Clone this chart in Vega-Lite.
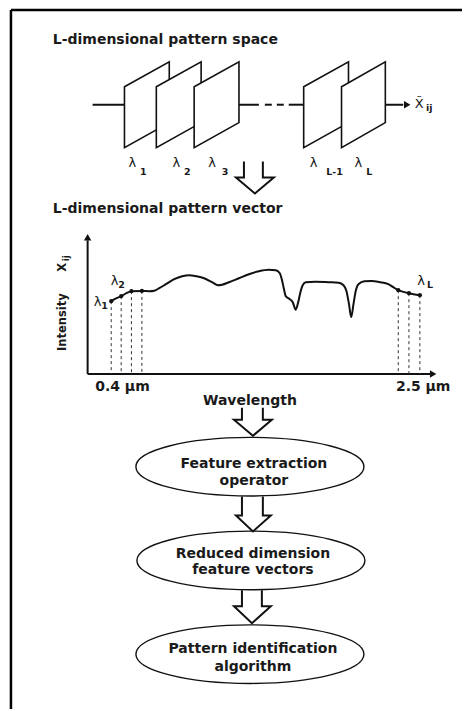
{
  "$schema": "https://vega.github.io/schema/vega-lite/v6.json",
  "width": 464,
  "height": 711,
  "padding": 0,
  "autosize": {"type": "fit", "contains": "padding"},
  "background": "white",
  "config": {"view": {"stroke": null}},
  "datasets": {
    "frame": [
      {"x": 11, "y": 10, "x2": 464, "y2": 10},
      {"x": 11, "y": 10, "x2": 11, "y2": 711}
    ],
    "strokes": [
      {"x": 93, "x2": 125, "y": 105, "y2": 105},
      {"x": 147, "x2": 157, "y": 105, "y2": 105},
      {"x": 180, "x2": 195, "y": 105, "y2": 105},
      {"x": 218, "x2": 260, "y": 105, "y2": 105},
      {"x": 266, "x2": 273, "y": 105, "y2": 105},
      {"x": 278, "x2": 285, "y": 105, "y2": 105},
      {"x": 290, "x2": 305, "y": 105, "y2": 105},
      {"x": 328, "x2": 343, "y": 105, "y2": 105},
      {"x": 365, "x2": 405, "y": 105, "y2": 105},
      {"x": 88, "x2": 88, "y": 241, "y2": 375},
      {"x": 88, "x2": 432, "y": 375, "y2": 375}
    ],
    "planes": [
      {"p": 1, "x": 125, "y": 87, "y2": 148}, {"p": 1, "x": 170, "y": 62, "y2": 123},
      {"p": 2, "x": 157, "y": 87, "y2": 148}, {"p": 2, "x": 202, "y": 62, "y2": 123},
      {"p": 3, "x": 195, "y": 87, "y2": 148}, {"p": 3, "x": 240, "y": 62, "y2": 123},
      {"p": 4, "x": 305, "y": 87, "y2": 148}, {"p": 4, "x": 350, "y": 62, "y2": 123},
      {"p": 5, "x": 343, "y": 87, "y2": 148}, {"p": 5, "x": 387, "y": 62, "y2": 123}
    ],
    "heads": [
      {"x": 409, "y": 105, "dir": "right"},
      {"x": 88, "y": 238, "dir": "up"},
      {"x": 435, "y": 375, "dir": "right"}
    ],
    "arrows": [
      {"a": 1, "k": 1, "x": 245, "y": 162}, {"a": 1, "k": 2, "x": 245, "y": 178},
      {"a": 1, "k": 3, "x": 237, "y": 178}, {"a": 1, "k": 4, "x": 256, "y": 194},
      {"a": 1, "k": 5, "x": 275, "y": 178}, {"a": 1, "k": 6, "x": 264, "y": 178},
      {"a": 1, "k": 7, "x": 264, "y": 162},
      {"a": 2, "k": 1, "x": 243, "y": 409}, {"a": 2, "k": 2, "x": 243, "y": 421},
      {"a": 2, "k": 3, "x": 235, "y": 421}, {"a": 2, "k": 4, "x": 254, "y": 437},
      {"a": 2, "k": 5, "x": 273, "y": 421}, {"a": 2, "k": 6, "x": 264, "y": 421},
      {"a": 2, "k": 7, "x": 264, "y": 409},
      {"a": 3, "k": 1, "x": 243, "y": 498}, {"a": 3, "k": 2, "x": 243, "y": 517},
      {"a": 3, "k": 3, "x": 237, "y": 517}, {"a": 3, "k": 4, "x": 254, "y": 533},
      {"a": 3, "k": 5, "x": 272, "y": 517}, {"a": 3, "k": 6, "x": 264, "y": 517},
      {"a": 3, "k": 7, "x": 264, "y": 498},
      {"a": 4, "k": 1, "x": 243, "y": 592}, {"a": 4, "k": 2, "x": 243, "y": 608},
      {"a": 4, "k": 3, "x": 235, "y": 608}, {"a": 4, "k": 4, "x": 253, "y": 625},
      {"a": 4, "k": 5, "x": 272, "y": 608}, {"a": 4, "k": 6, "x": 263, "y": 608},
      {"a": 4, "k": 7, "x": 263, "y": 592}
    ],
    "spectrum": [
      {"x": 111.7, "y": 302}, {"x": 116, "y": 299.5}, {"x": 121.7, "y": 297},
      {"x": 127, "y": 294}, {"x": 132, "y": 292}, {"x": 142.5, "y": 291.7},
      {"x": 150, "y": 292}, {"x": 155, "y": 291.5}, {"x": 160, "y": 289},
      {"x": 166.7, "y": 285}, {"x": 175, "y": 280}, {"x": 183, "y": 277},
      {"x": 190, "y": 276}, {"x": 197, "y": 277}, {"x": 205, "y": 279},
      {"x": 213, "y": 283}, {"x": 219, "y": 286}, {"x": 223, "y": 285.5},
      {"x": 230, "y": 283}, {"x": 240, "y": 279}, {"x": 250, "y": 275},
      {"x": 260, "y": 272}, {"x": 270, "y": 270.5}, {"x": 277, "y": 271},
      {"x": 281, "y": 274}, {"x": 283, "y": 280}, {"x": 285, "y": 289},
      {"x": 287, "y": 297}, {"x": 291, "y": 300}, {"x": 294, "y": 303},
      {"x": 297, "y": 310.5}, {"x": 299.5, "y": 303}, {"x": 301.7, "y": 293},
      {"x": 304, "y": 286}, {"x": 307, "y": 283}, {"x": 316.7, "y": 282.5},
      {"x": 330, "y": 283}, {"x": 340, "y": 283.5}, {"x": 345, "y": 286},
      {"x": 348, "y": 292}, {"x": 350.5, "y": 305}, {"x": 352.7, "y": 318},
      {"x": 355, "y": 305}, {"x": 357, "y": 293}, {"x": 360, "y": 285},
      {"x": 366, "y": 282}, {"x": 373, "y": 281.7}, {"x": 382, "y": 283},
      {"x": 390, "y": 285}, {"x": 395, "y": 288}, {"x": 400, "y": 291},
      {"x": 410.7, "y": 294}, {"x": 421.7, "y": 296}
    ],
    "samples": [
      {"x": 111.7, "y": 302, "y2": 375}, {"x": 121.7, "y": 297, "y2": 375},
      {"x": 132, "y": 292, "y2": 375}, {"x": 142.5, "y": 291.7, "y2": 375},
      {"x": 400, "y": 291, "y2": 375}, {"x": 410.7, "y": 294, "y2": 375},
      {"x": 421.7, "y": 296, "y2": 375}
    ],
    "boxes": [
      {"x": 251, "y": 468}, {"x": 252, "y": 562}, {"x": 251, "y": 656}
    ],
    "titles": [
      {"x": 53, "y": 40, "t": "L-dimensional pattern space"},
      {"x": 53, "y": 210, "t": "L-dimensional pattern vector"}
    ],
    "labels": [
      {"x": 123, "y": 388, "t": "0.4 μm"},
      {"x": 425, "y": 388, "t": "2.5 μm"},
      {"x": 251, "y": 402, "t": "Wavelength"},
      {"x": 255, "y": 465, "t": "Feature extraction"},
      {"x": 255, "y": 482, "t": "operator"},
      {"x": 254, "y": 556, "t": "Reduced dimension"},
      {"x": 254, "y": 572, "t": "feature vectors"},
      {"x": 254, "y": 651, "t": "Pattern identification"},
      {"x": 254, "y": 669, "t": "algorithm"}
    ],
    "greek": [
      {"x": 133, "y": 163, "t": "λ"}, {"x": 177, "y": 163, "t": "λ"},
      {"x": 213, "y": 163, "t": "λ"}, {"x": 315, "y": 163, "t": "λ"},
      {"x": 360, "y": 163, "t": "λ"},
      {"x": 98, "y": 303, "t": "λ"}, {"x": 115, "y": 282, "t": "λ"},
      {"x": 423, "y": 282, "t": "λ"},
      {"x": 421, "y": 104, "t": "X̃"}
    ],
    "subs": [
      {"x": 144, "y": 172, "t": "1"}, {"x": 188, "y": 172, "t": "2"},
      {"x": 226, "y": 172, "t": "3"}, {"x": 336, "y": 172, "t": "L-1"},
      {"x": 371, "y": 172, "t": "L"},
      {"x": 105, "y": 307, "t": "1"}, {"x": 122, "y": 286, "t": "2"},
      {"x": 432, "y": 286, "t": "L"},
      {"x": 431, "y": 108, "t": "ij"}
    ],
    "ylabel": [
      {"x": 63, "y": 323, "t": "Intensity"},
      {"x": 63, "y": 268, "t": "X"}
    ],
    "ysub": [
      {"x": 66, "y": 259, "t": "ij"}
    ]
  },
  "encoding": {
    "x": {"field": "x", "type": "quantitative", "scale": {"domain": [0, 464], "nice": false, "zero": false}, "axis": null},
    "y": {"field": "y", "type": "quantitative", "scale": {"domain": [0, 711], "nice": false, "zero": false, "reverse": true}, "axis": null}
  },
  "layer": [
    {
      "data": {"name": "frame"},
      "mark": {"type": "rule", "color": "#000", "strokeWidth": 2.5},
      "encoding": {"x2": {"field": "x2"}, "y2": {"field": "y2"}}
    },
    {
      "data": {"name": "strokes"},
      "mark": {"type": "rule", "color": "#111", "strokeWidth": 2},
      "encoding": {"x2": {"field": "x2"}, "y2": {"field": "y2"}}
    },
    {
      "data": {"name": "planes"},
      "mark": {"type": "area", "fill": "white", "stroke": "#111", "strokeWidth": 1.6, "fillOpacity": 1, "interpolate": "linear"},
      "encoding": {"y2": {"field": "y2"}, "detail": {"field": "p", "type": "nominal"}}
    },
    {
      "data": {"name": "heads"},
      "mark": {"type": "point", "filled": true, "color": "#111", "size": 55, "opacity": 1},
      "encoding": {
        "shape": {"field": "dir", "type": "nominal", "scale": {"domain": ["right", "up"], "range": ["triangle-right", "triangle-up"]}, "legend": null}
      }
    },
    {
      "data": {"name": "arrows"},
      "mark": {"type": "line", "color": "#111", "strokeWidth": 2, "strokeJoin": "miter"},
      "encoding": {"detail": {"field": "a", "type": "nominal"}, "order": {"field": "k", "type": "quantitative"}}
    },
    {
      "data": {"name": "samples"},
      "mark": {"type": "rule", "color": "#333", "strokeWidth": 1, "strokeDash": [3, 3]},
      "encoding": {"y2": {"field": "y2"}}
    },
    {
      "data": {"name": "spectrum"},
      "mark": {"type": "line", "color": "#111", "strokeWidth": 2, "interpolate": "monotone"},
      "encoding": {}
    },
    {
      "data": {"name": "samples"},
      "mark": {"type": "circle", "color": "#111", "size": 18, "opacity": 1},
      "encoding": {}
    },
    {
      "data": {"name": "boxes"},
      "mark": {"type": "point", "shape": "M-1,0 A1,0.257 0 1,1 1,0 A1,0.257 0 1,1 -1,0 Z", "size": 51984, "stroke": "#111", "strokeWidth": 1.4, "fill": "none", "opacity": 1},
      "encoding": {}
    },
    {
      "data": {"name": "titles"},
      "mark": {"type": "text", "align": "left", "baseline": "middle", "font": "DejaVu Sans", "fontWeight": "bold", "fontSize": 14, "color": "#1a1a1a"},
      "encoding": {"text": {"field": "t"}}
    },
    {
      "data": {"name": "labels"},
      "mark": {"type": "text", "align": "center", "baseline": "middle", "font": "DejaVu Sans", "fontWeight": "bold", "fontSize": 14, "color": "#1a1a1a"},
      "encoding": {"text": {"field": "t"}}
    },
    {
      "data": {"name": "greek"},
      "mark": {"type": "text", "align": "center", "baseline": "middle", "font": "DejaVu Sans", "fontWeight": "normal", "fontSize": 13, "color": "#1a1a1a"},
      "encoding": {"text": {"field": "t"}}
    },
    {
      "data": {"name": "subs"},
      "mark": {"type": "text", "align": "center", "baseline": "middle", "font": "DejaVu Sans", "fontWeight": "bold", "fontSize": 9.5, "color": "#1a1a1a"},
      "encoding": {"text": {"field": "t"}}
    },
    {
      "data": {"name": "ylabel"},
      "mark": {"type": "text", "align": "center", "baseline": "middle", "angle": 270, "font": "DejaVu Sans", "fontWeight": "bold", "fontSize": 11.5, "color": "#1a1a1a"},
      "encoding": {"text": {"field": "t"}}
    },
    {
      "data": {"name": "ysub"},
      "mark": {"type": "text", "align": "center", "baseline": "middle", "angle": 270, "font": "DejaVu Sans", "fontWeight": "bold", "fontSize": 8.5, "color": "#1a1a1a"},
      "encoding": {"text": {"field": "t"}}
    }
  ]
}
